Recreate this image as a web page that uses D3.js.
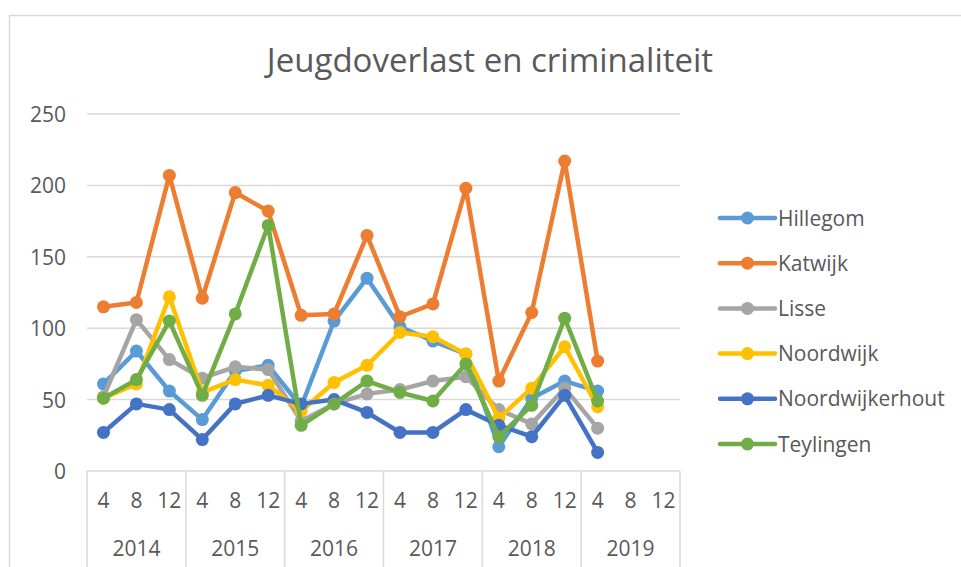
<!DOCTYPE html>
<html>
<head>
<meta charset="utf-8">
<script src="https://cdn.jsdelivr.net/npm/d3@7"></script>
<style>
  body { margin: 0; background: #fff; }
  text { font-family: "Open Sans", sans-serif; fill: #595959; }
</style>
</head>
<body>
<div class="container"></div>
<script>
const width = 961,
    height = 567;

const years = ['2014', '2015', '2016', '2017', '2018', '2019'];
const months = ['4', '8', '12'];

const names = ['Hillegom', 'Katwijk', 'Lisse', 'Noordwijk', 'Noordwijkerhout', 'Teylingen'];
const colors = ['#5B9BD5', '#ED7D31', '#A5A5A5', '#FFC000', '#4472C4', '#70AD47'];

const hillegom        = [61, 84, 56, 36, 70, 74, 45, 105, 135, 101, 91, 82, 17, 51, 63, 56];
const katwijk         = [115, 118, 207, 121, 195, 182, 109, 110, 165, 108, 117, 198, 63, 111, 217, 77];
const lisse           = [52, 106, 78, 65, 73, 71, 35, 47, 54, 57, 63, 66, 43, 33, 58, 30];
const noordwijk       = [51, 61, 122, 55, 64, 60, 42, 62, 74, 97, 94, 82, 37, 58, 87, 45];
const noordwijkerhout = [27, 47, 43, 22, 47, 53, 47, 50, 41, 27, 27, 43, 32, 24, 53, 13];
const teylingen       = [51, 64, 105, 53, 110, 172, 32, 47, 63, 55, 49, 75, 24, 46, 107, 49];

const yTicks = [0, 50, 100, 150, 200, 250];

const seriesValues = [hillegom, katwijk, lisse, noordwijk, noordwijkerhout, teylingen];

// every (year, month) pair is one category slot
const categories = [];
years.forEach(y => months.forEach(m => categories.push(y + '-' + m)));

const series = names.map((name, i) => ({
    name: name,
    color: colors[i],
    values: seriesValues[i].map((v, j) => ({ key: categories[j], value: v }))
}));

const plot = { left: 87, right: 680, top: 114, bottom: 471 };

const svg = d3.select('.container')
    .append('svg')
    .attr('width', width)
    .attr('height', height);

// chart area border
svg.append('rect')
    .attr('x', 9.5)
    .attr('y', 15.5)
    .attr('width', width + 20)
    .attr('height', height + 20)
    .attr('fill', 'none')
    .attr('stroke', '#D9D9D9')
    .attr('stroke-width', 1.5);

svg.append('text')
    .attr('x', 490)
    .attr('y', 72)
    .attr('text-anchor', 'middle')
    .style('font-size', '33px')
    .text('Jeugdoverlast en criminaliteit');

const x = d3.scaleBand()
    .domain(categories)
    .range([plot.left, plot.right]);

const xYear = d3.scaleBand()
    .domain(years)
    .range([plot.left, plot.right]);

const y = d3.scaleLinear()
    .domain([0, 250])
    .range([plot.bottom, plot.top]);

// gridlines
svg.append('g')
    .selectAll('line')
    .data(yTicks.filter(d => d > 0))
    .enter()
    .append('line')
    .attr('x1', plot.left)
    .attr('x2', plot.right)
    .attr('y1', d => y(d))
    .attr('y2', d => y(d))
    .attr('stroke', '#D9D9D9')
    .attr('stroke-width', 1.5);

svg.append('g')
    .selectAll('text')
    .data(yTicks)
    .enter()
    .append('text')
    .attr('x', 66)
    .attr('y', d => y(d) + 8)
    .attr('text-anchor', 'end')
    .style('font-size', '21px')
    .text(d => d);

// category axis: base line and year separators
svg.append('line')
    .attr('x1', plot.left)
    .attr('x2', plot.right)
    .attr('y1', plot.bottom)
    .attr('y2', plot.bottom)
    .attr('stroke', '#D9D9D9')
    .attr('stroke-width', 1.5);

const sepX = years.map(yr => xYear(yr)).concat([plot.right]);
svg.append('g')
    .selectAll('line')
    .data(sepX)
    .enter()
    .append('line')
    .attr('x1', d => d)
    .attr('x2', d => d)
    .attr('y1', plot.bottom)
    .attr('y2', height)
    .attr('stroke', '#D9D9D9')
    .attr('stroke-width', 1.5);

svg.append('g')
    .selectAll('text')
    .data(categories)
    .enter()
    .append('text')
    .attr('x', d => x(d) + x.bandwidth() / 2)
    .attr('y', 508)
    .attr('text-anchor', 'middle')
    .style('font-size', '21px')
    .text(d => d.split('-')[1]);

svg.append('g')
    .selectAll('text')
    .data(years)
    .enter()
    .append('text')
    .attr('x', d => xYear(d) + xYear.bandwidth() / 2)
    .attr('y', 556)
    .attr('text-anchor', 'middle')
    .style('font-size', '21px')
    .text(d => d);

// lines and markers
const line = d3.line()
    .x(d => x(d.key) + x.bandwidth() / 2)
    .y(d => y(d.value));

const groups = svg.append('g')
    .selectAll('g')
    .data(series)
    .enter()
    .append('g');

groups.append('path')
    .attr('d', d => line(d.values))
    .attr('fill', 'none')
    .attr('stroke', d => d.color)
    .attr('stroke-width', 4.5)
    .attr('stroke-linejoin', 'round');

groups.selectAll('circle')
    .data(d => d.values.map(v => Object.assign({ color: d.color }, v)))
    .enter()
    .append('circle')
    .attr('cx', d => x(d.key) + x.bandwidth() / 2)
    .attr('cy', d => y(d.value))
    .attr('r', 6.5)
    .attr('fill', d => d.color);

// legend
const legend = svg.append('g')
    .selectAll('g')
    .data(series)
    .enter()
    .append('g')
    .attr('transform', (d, i) => `translate(720, ${218 + i * 45.2})`);

legend.append('line')
    .attr('x1', 0)
    .attr('x2', 55)
    .attr('stroke', d => d.color)
    .attr('stroke-width', 4.5)
    .attr('stroke-linecap', 'round');

legend.append('circle')
    .attr('cx', 27.5)
    .attr('r', 6.5)
    .attr('fill', d => d.color);

legend.append('text')
    .attr('x', 58)
    .attr('y', 7.5)
    .style('font-size', '21px')
    .text(d => d.name);
</script>
</body>
</html>
